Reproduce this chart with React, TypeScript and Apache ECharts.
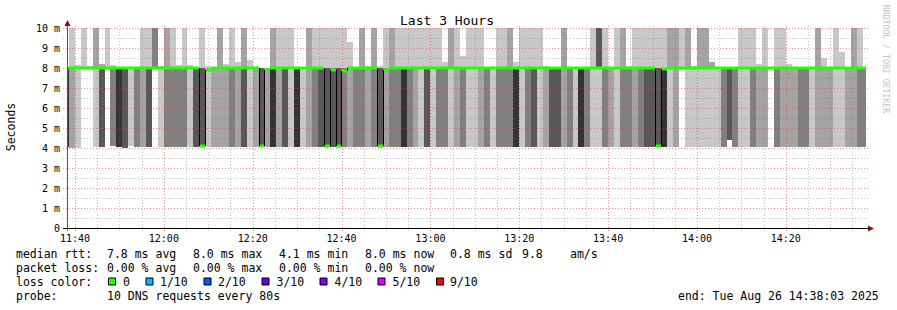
import React, { useEffect, useRef } from "react";
import * as echarts from "echarts";

// time in minutes since midnight
const START_MIN = 697.32; // start of first 80 s step
const STEP_MIN = 80 / 60;
const AXIS_MIN = 698.2;
const AXIS_MAX = 878.05;

const timeTicks = [700, 720, 740, 760, 780, 800, 820, 840, 860];
const minorTimeTicks = [705, 710, 715, 725, 730, 735, 745, 750, 755, 765, 770, 775, 785, 790, 795, 805, 810, 815, 825, 830, 835, 845, 850, 855, 865, 870, 875];
const yMajorTicks = [1, 2, 3, 4, 5, 6, 7, 8, 9, 10];
const yMinorTicks = [0.5, 1.5, 2.5, 3.5, 4.5, 5.5, 6.5, 7.5, 8.5, 9.5];

// smoke: top of upper band (ms), its shade, bottom of lower band (ms), its shade
const upperTop = [
  8, 10, 8.15, 10, 8.1, 10, 8.2, 10, 8.15, 8,
  8, 8, 8, 10, 10, 10, 8.1, 10, 10, 8.15,
  10, 8.15, 8, 10, 8.1, 8.05, 10, 8.2, 10, 8.3,
  10, 8.4, 8.05, 8, 8, 10, 10, 10, 10, 8,
  8, 10, 10, 10, 10, 10, 10, 10, 9.3, 8,
  10, 8.1, 10, 8.1, 10, 10, 10, 10, 10, 10,
  10, 10, 10, 10, 8.3, 10, 10, 8.6, 10, 10,
  10, 8, 8, 10, 10, 10, 8.3, 10, 10, 10,
  10, 8.1, 8, 8, 10, 8.05, 8, 8, 8, 10,
  10, 10, 8, 10, 10, 8.1, 10, 10, 10, 10,
  10, 10, 10, 10, 10, 10, 8.1, 10, 10, 8.3,
  8, 8, 8, 8, 10, 10, 10, 8.2, 10, 8,
  10, 10, 8.2, 8, 8, 8, 8, 10, 8.5, 8,
  10, 8.8, 8, 10, 10, 8,
];
const upperShade = [
  0, 1, 1, 1, 1, 2, 2, 1, 1, 0,
  0, 0, 0, 1, 1, 3, 1, 2, 1, 1,
  1, 1, 0, 1, 1, 1, 2, 1, 1, 1,
  2, 1, 1, 0, 0, 2, 1, 1, 1, 0,
  0, 2, 1, 1, 1, 1, 1, 1, 1, 0,
  2, 1, 2, 1, 1, 2, 1, 1, 1, 1,
  1, 1, 1, 1, 1, 2, 1, 1, 1, 1,
  1, 0, 0, 1, 1, 2, 1, 1, 1, 1,
  1, 1, 0, 0, 2, 1, 0, 0, 0, 1,
  4, 1, 0, 1, 2, 1, 1, 1, 1, 1,
  1, 1, 2, 2, 1, 2, 1, 2, 2, 2,
  0, 0, 0, 0, 1, 1, 1, 1, 1, 0,
  1, 1, 1, 0, 0, 0, 0, 2, 1, 0,
  1, 1, 0, 2, 1, 0,
];
const lowerBottom = [
  4.05, 4.0, 4.0, 4.05, 4.05, 4.05, 4.05, 4.05, 4.1, 4.05,
  4.0, 4.1, 4.05, 4.05, 4.05, 4.05, 4.05, 4.05, 4.05, 4.05,
  4.05, 4.05, 4.05, 4.05, 4.05, 4.05, 4.05, 4.05, 4.05, 4.05,
  4.05, 4.05, 4.05, 4.05, 4.05, 4.05, 4.05, 4.05, 4.05, 4.05,
  4.05, 4.05, 4.05, 4.05, 4.05, 4.05, 4.05, 4.05, 4.05, 4.05,
  4.05, 4.05, 4.05, 4.05, 4.05, 4.05, 4.05, 4.05, 4.05, 4.05,
  4.05, 4.05, 4.05, 4.05, 4.05, 4.05, 4.05, 4.05, 4.05, 4.05,
  4.05, 4.05, 4.05, 4.05, 4.05, 4.05, 4.05, 4.05, 4.05, 4.05,
  4.05, 4.05, 4.05, 4.05, 4.05, 4.05, 4.05, 4.05, 4.05, 4.05,
  4.05, 4.05, 4.05, 4.05, 4.05, 4.05, 4.05, 4.05, 4.05, 4.05,
  4.05, 4.05, 4.05, 4.05, 4.05, 4.05, 4.05, 4.05, 4.05, 4.05,
  4.05, 4.05, 4.4, 4.05, 4.05, 4.05, 4.05, 4.05, 4.05, 4.05,
  4.05, 4.05, 4.05, 4.05, 4.05, 4.05, 4.05, 4.05, 4.05, 4.05,
  4.05, 4.05, 4.05, 4.05, 4.05, 4.05,
];
const lowerShade = [
  5, 2, 1, 0, 0, 1, 4, 0, 3, 5,
  4, 1, 3, 2, 4, 0, 1, 3, 3, 3,
  3, 1, 4, 4, 1, 2, 2, 2, 3, 2,
  4, 1, 2, 4, 2, 5, 2, 4, 1, 5,
  1, 2, 3, 4, 4, 4, 4, 3, 2, 3,
  3, 2, 3, 4, 2, 3, 3, 5, 3, 2,
  1, 4, 1, 3, 3, 1, 2, 3, 1, 1,
  2, 3, 1, 3, 3, 3, 5, 1, 3, 4,
  1, 2, 4, 4, 2, 3, 1, 5, 3, 1,
  1, 3, 2, 1, 3, 3, 2, 3, 4, 4,
  4, 5, 1, 2, 0, 1, 1, 1, 1, 1,
  1, 3, 4, 3, 1, 1, 3, 2, 2, 0,
  3, 2, 2, 2, 3, 3, 1, 2, 2, 2,
  1, 1, 2, 2, 3, 3,
];
const medianRtt = [
  8, 8, 8, 8, 8, 8, 8, 8, 8, 8,
  8, 8, 8, 8, 8, 8, 8, 8, 8, 8,
  8, 8, 8, 4.1, 7.9, 8, 8, 8, 8, 8,
  8, 8, 8, 4.1, 7.9, 8, 8, 8, 8, 8,
  8, 8, 8, 8, 4.1, 7.9, 4.1, 7.85, 8, 8,
  8, 8, 8, 4.1, 7.9, 8, 8, 8, 8, 8,
  8, 8, 8, 8, 8, 8, 8, 8, 8, 8,
  8, 8, 8, 8, 8, 8, 8, 8, 8, 8,
  8, 8, 8, 8, 8, 8, 8, 8, 8, 8,
  8, 8, 8, 8, 8, 8, 8, 8, 8, 8,
  4.1, 7.95, 8, 8, 8, 8, 8, 8, 8, 8,
  8, 8, 8, 8, 8, 8, 8, 8, 8, 8,
  8, 8, 8, 8, 8, 8, 8, 8, 8, 8,
  8, 8, 8, 8, 8, 8,
];

const SHADES = ["#ffffff", "#c8c8c8", "#a4a4a4", "#808080", "#585858", "#333333"];
const GREEN = "#22ff00";
const MONO = "DejaVu Sans Mono";

const lossLabels = ["0", "1/10", "2/10", "3/10", "4/10", "5/10", "9/10"];
const lossColors = ["#26ff00", "#00b8ff", "#0059ff", "#5e00ff", "#7e00ff", "#dd00ff", "#ff0000"];

function fmtTime(v: number) {
  const h = Math.floor(v / 60);
  const m = Math.round(v - h * 60);
  return `${h}:${String(m).padStart(2, "0")}`;
}

export default function App() {
  const ref = useRef<HTMLDivElement>(null);
  useEffect(() => {
    if (!ref.current) return;
    const chart = echarts.init(ref.current, null, { renderer: "svg" });

    const smokeData = upperTop.map((_, i) => [
      START_MIN + i * STEP_MIN,
      START_MIN + (i + 1) * STEP_MIN,
      lowerBottom[i],
      upperTop[i],
      lowerShade[i],
      upperShade[i],
    ]);
    const medianData = medianRtt.map((m, i) => [
      START_MIN + i * STEP_MIN,
      START_MIN + (i + 1) * STEP_MIN,
      m,
      i > 0 ? medianRtt[i - 1] : m,
    ]);
    const gridData: number[][] = [];
    yMinorTicks.forEach((v) => gridData.push([AXIS_MIN + 1, v, 0, 0]));
    minorTimeTicks.forEach((v) => gridData.push([v, 5, 1, 0]));
    yMajorTicks.forEach((v) => gridData.push([AXIS_MIN + 1, v, 0, 1]));
    timeTicks.forEach((v) => gridData.push([v, 5, 1, 1]));

    const colX = (api: any, cs: any) => {
      let x0 = Math.round(api.coord([api.value(0), 0])[0]);
      let x1 = Math.round(api.coord([api.value(1), 0])[0]);
      x0 = Math.max(x0, cs.x);
      x1 = Math.min(x1, cs.x + cs.width);
      return [x0, x1];
    };

    const legendTexts: [string, number, number][] = [
      ["median rtt:", 16, 254],
      ["7.8 ms avg", 107, 254],
      ["8.0 ms max", 193, 254],
      ["4.1 ms min", 279, 254],
      ["8.0 ms now", 365, 254],
      ["0.8 ms sd", 450, 254],
      ["9.8", 522, 254],
      ["am/s", 570, 254],
      ["packet loss:", 16, 268],
      ["0.00 % avg", 107, 268],
      ["0.00 % max", 193, 268],
      ["0.00 % min", 279, 268],
      ["0.00 % now", 365, 268],
      ["loss color:", 16, 282],
      ["probe:", 16, 296],
      ["10 DNS requests every 80s", 107, 296],
      ["end: Tue Aug 26 14:38:03 2025", 678, 296],
    ];
    const squareX = [108.5, 146, 204, 262, 320, 378, 436.5];
    const lossTextX = [123, 160, 218, 276.5, 334.5, 392.5, 450];

    const graphic: any[] = [];
    legendTexts.forEach(([t, x, y]) =>
      graphic.push({
        type: "text",
        x,
        y,
        z: 100,
        style: { text: t, fontFamily: MONO, fontSize: 11.5, fill: "#000", align: "left", verticalAlign: "middle" },
      })
    );
    lossLabels.forEach((lab, k) => {
      graphic.push({
        type: "rect",
        z: 100,
        shape: { x: squareX[k], y: 278, width: 7, height: 7 },
        style: { fill: lossColors[k], stroke: "#000", lineWidth: 1 },
      });
      graphic.push({
        type: "text",
        x: lossTextX[k],
        y: 282,
        z: 100,
        style: { text: lab, fontFamily: MONO, fontSize: 11.5, fill: "#000", align: "left", verticalAlign: "middle" },
      });
    });
    graphic.push(
      {
        type: "text",
        x: 447,
        y: 20,
        z: 100,
        style: { text: "Last 3 Hours", fontFamily: MONO, fontSize: 13, fill: "#000", align: "center", verticalAlign: "middle" },
      },
      {
        type: "text",
        x: 11,
        y: 127,
        rotation: Math.PI / 2,
        z: 100,
        style: { text: "Seconds", fontFamily: MONO, fontSize: 11.5, fill: "#000", align: "center", verticalAlign: "middle" },
      },
      {
        type: "text",
        x: 886,
        y: 59,
        rotation: -Math.PI / 2,
        z: 100,
        style: { text: "RRDTOOL / TOBI OETIKER", fontFamily: MONO, fontSize: 8.2, fill: "#c4c4c4", align: "center", verticalAlign: "middle" },
      },
      { type: "line", z: 100, shape: { x1: 67.5, y1: 231, x2: 67.5, y2: 24 }, style: { stroke: "#555", lineWidth: 1 } },
      { type: "line", z: 100, shape: { x1: 63, y1: 228.5, x2: 869, y2: 228.5 }, style: { stroke: "#000", lineWidth: 1 } },
      { type: "polygon", z: 101, shape: { points: [[64.5, 26], [70.5, 26], [67.5, 20]] }, style: { fill: "#7f1010" } },
      { type: "polygon", z: 101, shape: { points: [[868, 225.5], [868, 231.5], [874, 228.5]] }, style: { fill: "#7f1010" } }
    );

    const option: any = {
      animation: false,
      grid: { left: 67, right: 31, top: 28, bottom: 82, outerBoundsMode: "none" },
      xAxis: {
        type: "value",
        min: AXIS_MIN,
        max: AXIS_MAX,
        axisLine: { show: false },
        axisTick: { show: false },
        splitLine: { show: false },
        axisLabel: {
          customValues: timeTicks,
          formatter: (v: number) => fmtTime(v),
          fontFamily: MONO,
          fontSize: 10,
          color: "#000",
          margin: 5,
        },
      },
      yAxis: {
        type: "value",
        min: 0,
        max: 10,
        interval: 1,
        axisLine: { show: false },
        axisTick: { show: false },
        splitLine: { show: false },
        axisLabel: {
          formatter: (v: number) => (v === 0 ? "0" : `${v} m`),
          fontFamily: MONO,
          fontSize: 10,
          color: "#000",
          margin: 7,
        },
      },
      series: [
        {
          type: "custom",
          name: "smoke",
          z: 2,
          data: smokeData,
          encode: { x: [0, 1], y: [2, 3] },
          renderItem: (params: any, api: any) => {
            const cs = params.coordSys;
            const [x0, x1] = colX(api, cs);
            if (x1 <= x0) return null;
            const yMid = Math.round(api.coord([api.value(0), 8])[1]);
            const yTop = Math.round(api.coord([api.value(0), api.value(3)])[1]);
            const yBot = Math.round(api.coord([api.value(0), api.value(2)])[1]);
            const children: any[] = [];
            const ls = api.value(4);
            const us = api.value(5);
            if (ls > 0)
              children.push({
                type: "rect",
                shape: { x: x0, y: yMid, width: x1 - x0, height: yBot - yMid },
                style: { fill: SHADES[ls] },
              });
            if (us > 0 && yMid - yTop > 0)
              children.push({
                type: "rect",
                shape: { x: x0, y: yTop, width: x1 - x0, height: yMid - yTop },
                style: { fill: SHADES[us] },
              });
            return { type: "group", children };
          },
        },
        {
          type: "custom",
          name: "grid",
          z: 3,
          silent: true,
          data: gridData,
          encode: { x: 0, y: 1 },
          renderItem: (params: any, api: any) => {
            const cs = params.coordSys;
            const vertical = api.value(2) === 1;
            const major = api.value(3) === 1;
            const stroke = major ? "rgba(235,60,60,0.55)" : "rgba(110,110,110,0.4)";
            if (vertical) {
              const x = Math.round(api.coord([api.value(0), 0])[0]) + 0.5;
              return {
                type: "line",
                shape: { x1: x, y1: cs.y - 2, x2: x, y2: cs.y + cs.height + 3 },
                style: { stroke, lineWidth: 1, lineDash: [1, 2] },
              };
            }
            const y = Math.round(api.coord([AXIS_MIN, api.value(1)])[1]) + 0.5;
            return {
              type: "line",
              shape: { x1: cs.x - 4, y1: y, x2: cs.x + cs.width + 3, y2: y },
              style: { stroke, lineWidth: 1, lineDash: [1, 2] },
            };
          },
        },
        {
          type: "custom",
          name: "median",
          z: 4,
          data: medianData,
          encode: { x: [0, 1], y: [2, 3] },
          renderItem: (params: any, api: any) => {
            const cs = params.coordSys;
            const [x0, x1] = colX(api, cs);
            if (x1 <= x0) return null;
            const y = api.coord([api.value(0), api.value(2)])[1];
            const yPrev = api.coord([api.value(0), api.value(3)])[1];
            const children: any[] = [
              { type: "rect", shape: { x: x0, y: y - 1.5, width: x1 - x0, height: 3 }, style: { fill: GREEN } },
            ];
            if (Math.abs(y - yPrev) > 2) {
              children.push({
                type: "line",
                shape: { x1: x0 + 0.5, y1: Math.min(y, yPrev), x2: x0 + 0.5, y2: Math.max(y, yPrev) },
                style: { stroke: "#000", lineWidth: 1 },
              });
            }
            return { type: "group", children };
          },
        },
      ],
      graphic,
    };
    chart.setOption(option);
    return () => chart.dispose();
  }, []);

  return (
    <div
      ref={ref}
      style={{ position: "fixed", left: 0, top: 0, width: 897, height: 310, background: "#fff" }}
    />
  );
}
